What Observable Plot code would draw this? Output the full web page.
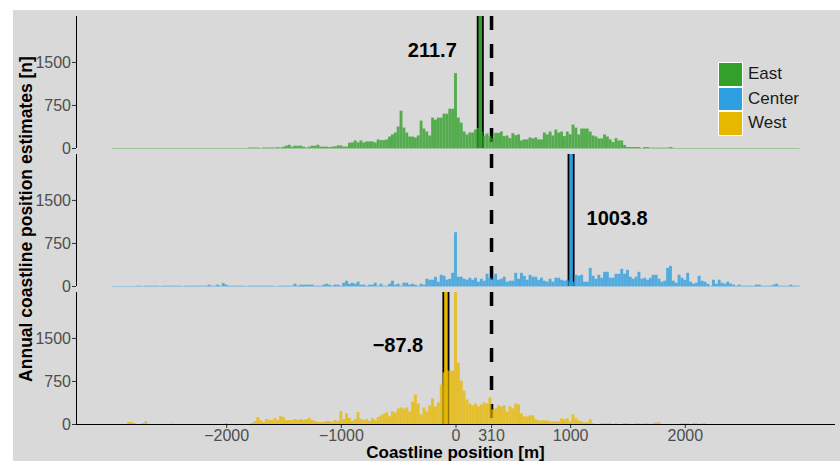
<!DOCTYPE html>
<html>
<head>
<meta charset="utf-8">
<script src="https://cdn.jsdelivr.net/npm/d3@7"></script>
<script src="https://cdn.jsdelivr.net/npm/@observablehq/plot@0.6"></script>
<style>
  html, body { margin: 0; padding: 0; background: #ffffff; }
  #wrap { position: relative; width: 840px; height: 461px; overflow: hidden; font-family: "Liberation Sans", Arial, sans-serif; }
  #bg { position: absolute; left: 13px; top: 10px; right: 0; bottom: 0; background: #d9d9d9; }
  #chart { position: absolute; left: 0; top: 0; }
  #overlay { position: absolute; left: 0; top: 0; pointer-events: none; }
  #legend { position: absolute; left: 718px; top: 62px; }
  .key { position: absolute; left: 0; width: 25px; height: 24.6px; box-sizing: border-box; border: 1.4px solid #ffffff; }
  .klabel { position: absolute; left: 30px; font-size: 17px; color: #1a1a1a; white-space: nowrap; line-height: 24.6px; }
  [aria-label$="tick label"] { fill: #4d4d4d; font-size: 16px; font-family: "Liberation Sans", Arial, sans-serif; }
  [aria-label$="-axis tick"] { stroke: #333333; }
</style>
</head>
<body>
<div id="wrap">
  <div id="bg"></div>
  <div id="chart"></div>
  <svg id="overlay" width="840" height="461"></svg>
  <div id="legend"></div>
</div>
<script>
// ---------- data ----------
const panels = ["East", "Center", "West"];
const colors = ["#33a02c", "#2e9fe0", "#e7b800"];
const BIN = 25;               // histogram bin width [m], bins centred on multiples of 25
const eastStart = -1800;
const eastCounts = [
  8,8,8,8,0,8,8,8,8,8,
  15,8,23,40,57,23,40,40,40,23,
  8,23,40,40,57,23,23,23,15,23,
  30,45,45,25,25,92,98,132,98,132,
  98,115,115,115,98,150,138,138,150,200,
  236,270,374,650,356,270,200,200,184,218,
  477,339,287,218,529,494,529,529,598,598,
  684,684,1305,529,442,287,236,270,270,322,
  350,290,218,253,207,172,264,264,287,207,
  218,172,259,224,236,132,150,150,184,167,
  184,150,150,270,236,287,218,322,270,287,
  207,287,241,408,356,236,339,339,339,287,
  218,201,167,167,236,201,150,103,172,132,
  132,52,17,17,17,17,17,0,17,17,
  5,5,5,5,5,5,5,17,5
];
const centerStart = -2775;
const centerCounts = [
  5,5,0,5,5,5,5,5,0,5,
  5,5,5,5,5,5,0,5,5,5,
  5,5,
  5,5,5,23,5,5,23,5,52,23,
  5,5,5,5,5,5,0,5,5,5,
  5,5,5,5,5,5,0,0,5,5,
  5,5,5,
  40,5,23,23,23,23,23,5,5,5,
  23,40,23,5,23,23,5,57,92,40,
  57,40,75,23,23,5,23,23,57,5,
  40,5,5,40,92,23,40,5,57,57,
  23,40,23,5,40,23,126,109,109,161,
  75,195,178,109,126,230,
  937,
  161,161,126,109,144,109,144,75,126,92,
  213,144,126,213,109,126,161,75,92,92,
  230,
  126,230,178,109,195,161,161,109,144,92,
  75,126,75,144,144,109,92,109,75,75,
  195,178,195,75,75,316,178,126,195,144,
  247,247,144,144,213,213,299,213,282,161,
  126,161,247,126,144,109,144,195,195,126,
  75,92,316,350,92,57,195,144,109,230,
  75,40,57,178,92,75,40,5,109,40,
  109,57,40,75,40,23,5,23,5,5,
  5,5,5,23,23,5,5,5,5,23,
  40,5,5,5,5,23,5,5,5
];
const westStart = -2850;
const westCounts = [
  35,35,17,0,0,17,52,0,0,0,
  0,0,0,0,0,6,0,0,0,0,
  0,0,0,0,0,0,0,0,0,0,
  0,0,0,0,17,0,0,0,0,0,
  0,0,0,17,52,121,69,35,86,69,
  69,104,69,138,121,69,69,69,86,69,
  86,69,86,104,69,52,35,35,35,52,
  52,35,69,52,225,86,190,104,52,86,
  208,86,69,86,52,104,69,121,
  150,180,202,133,219,200,271,288,271,288,
  219,392,513,357,167,288,219,323,444,306,
  375,686,900,935,929,929,2300,1067,756,583,
  427,357,323,357,306,340,375,357,461,254,
  271,323,306,323,219,306,271,357,340,184,
  133,133,150,150,81,63,63,63,63,46,
  46,46,46,98,81,98,46,167,98,63,
  46,29,29,81,12,0,0,12,12,12,
  12,0,12,0,0,12,12,0,0,12,
  12,0,12,12,0,12,29,29,0,0,
  0,0,0,0,0,12,12,12,0,12,
  12,0,12,12
];
const means = [211.7, 1003.8, -87.8];      // mean coastline position per panel
const meanLabelCounts = [1700, 1190, 1380]; // count level where the mean label sits
const refLine = 310;
const xTicks = [-2000, -1000, 0, 310, 1000, 2000];
const yTicks = [0, 750, 1500];
const xDomain = [-3310, 3310];
const yDomain = [0, 2300];
const dataExtent = [-3000, 3000];

// ---------- tables ----------
const starts = [eastStart, centerStart, westStart];
const counts = [eastCounts, centerCounts, westCounts];
const bins = [];
counts.forEach((arr, i) => arr.forEach((n, j) => bins.push({panel: panels[i], x: starts[i] + j * BIN, n})));
const panelRows = panels.map(p => ({panel: p}));
const meanRows = panels.map((p, i) => ({panel: p, mean: means[i], ly: meanLabelCounts[i], label: d3.format(".1f")(means[i])}));
const fmt = d3.format("d");
const labelDx = [-48, 46, -48];

const plot = Plot.plot({
  width: 840,
  height: 461,
  marginLeft: 76,
  marginRight: 5,
  marginTop: 15,
  marginBottom: 36,
  style: {background: "transparent", fontFamily: "'Liberation Sans', Arial, sans-serif", fontSize: "15px", color: "#333333"},
  x: {domain: xDomain, ticks: xTicks, tickFormat: fmt, tickSize: 4, tickPadding: 1.5, label: null},
  y: {domain: yDomain, ticks: yTicks, tickFormat: fmt, tickSize: 4, tickPadding: 1.5, label: null},
  fy: {domain: panels, paddingInner: 0.04, paddingOuter: 0, axis: null, label: null},
  color: {domain: panels, range: colors},
  marks: [
    Plot.ruleX([refLine], {stroke: "black", strokeWidth: 3.5, strokeDasharray: "14,14"}),
    Plot.ruleX(meanRows, {x: "mean", fy: "panel", stroke: "black", strokeWidth: 7}),
    Plot.ruleX(meanRows, {x: "mean", fy: "panel", stroke: "panel", strokeWidth: 3.5}),
    Plot.ruleY(panelRows, {y: () => 0, x1: () => dataExtent[0], x2: () => dataExtent[1], fy: "panel", stroke: "panel", strokeOpacity: 0.35, strokeWidth: 1}),
    Plot.rect(bins, {x1: d => d.x - BIN / 2, x2: d => d.x + BIN / 2, y1: () => 0, y2: "n", fy: "panel", fill: "panel", fillOpacity: 0.8}),
    Plot.ruleX(panelRows, {x: () => xDomain[0], fy: "panel", stroke: "black", strokeWidth: 1}),
    Plot.ruleY(panelRows.filter(d => d.panel === "West"), {y: () => 0, fy: "panel", stroke: "black", strokeWidth: 1.2}),
    ...meanRows.map((d, i) => Plot.text([d], {
      x: "mean", y: "ly", fy: "panel", text: "label",
      dx: labelDx[i], textAnchor: "middle",
      fontSize: 20, fontWeight: "bold", fill: "black"
    }))
  ]
});
document.getElementById("chart").appendChild(plot);

// ---------- axis titles ----------
const ov = d3.select("#overlay");
ov.append("text")
  .attr("transform", "translate(31.5,219) rotate(-90)")
  .attr("text-anchor", "middle")
  .attr("font-family", "'Liberation Sans', Arial, sans-serif")
  .attr("font-weight", "bold")
  .attr("font-size", 17.5)
  .attr("fill", "black")
  .text("Annual coastline position estimates [n]");
ov.append("text")
  .attr("x", 455.5).attr("y", 457.5)
  .attr("text-anchor", "middle")
  .attr("font-family", "'Liberation Sans', Arial, sans-serif")
  .attr("font-weight", "bold")
  .attr("font-size", 17)
  .attr("fill", "black")
  .text("Coastline position [m]");

// ---------- legend ----------
const legend = d3.select("#legend");
panels.forEach((p, i) => {
  legend.append("div").attr("class", "key")
    .style("top", (i * 24.6) + "px")
    .style("background", colors[i]);
  legend.append("div").attr("class", "klabel")
    .style("top", (i * 24.6) + "px")
    .text(p);
});
</script>
</body>
</html>
